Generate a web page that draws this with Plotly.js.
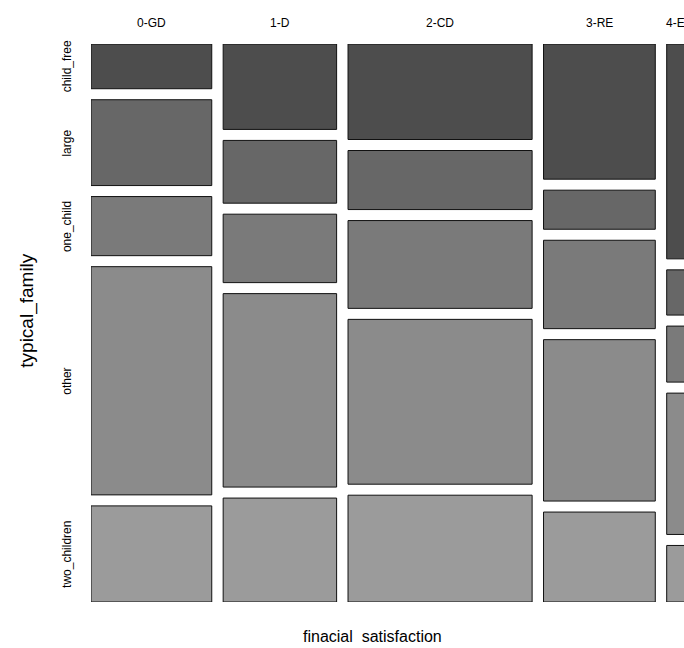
<!DOCTYPE html>
<html>
<head>
<meta charset="utf-8">
<script src="https://cdn.plot.ly/plotly-3.0.1.min.js"></script>
<style>html,body{margin:0;padding:0;background:#fff;}#chart{width:684px;height:648px;}</style>
</head>
<body>
<div id="chart"></div>
<script>
// Columns: financial satisfaction categories and their relative widths (column share)
const columns = ["0-GD", "1-D", "2-CD", "3-RE", "4-E"];
const columnShare = [120.7, 113.4, 184, 111.7, 60];

// Rows: typical_family categories (top to bottom) with within-column percentages
const rows = ["child_free", "large", "one_child", "other", "two_children"];
const child_free   = [8.7, 16.6, 18.6, 26.3, 41.8];
const large        = [16.7, 12.2, 11.5, 7.6, 8.8];
const one_child    = [11.5, 13.3, 17.1, 17.2, 10.9];
const other        = [44.4, 37.6, 32.1, 31.4, 27.5];
const two_children = [18.7, 20.2, 20.8, 17.5, 11.0];
const rowValues = [child_free, large, one_child, other, two_children];

const rowColors = ["#4d4d4d", "#676767", "#7a7a7a", "#8b8b8b", "#9b9b9b"];

// layout geometry (axis units)
const gapX = 11.4, gapY = 11;
const xMax = 592.7, yMax = 558;
const contentH = yMax - gapY * (rows.length - 1);

// column positions
const colStart = [];
let cx = 0;
columnShare.forEach((w, i) => { colStart.push(cx); cx += w + gapX; });
const colCenter = columnShare.map((w, i) => colStart[i] + w / 2);

// row heights / bases per column
const heights = rowValues.map(() => []);
const bases = rowValues.map(() => []);
columns.forEach((c, j) => {
  const tot = rowValues.reduce((s, r) => s + r[j], 0);
  let y = 0;
  rowValues.forEach((r, i) => {
    const h = r[j] / tot * contentH;
    bases[i].push(y);
    heights[i].push(h);
    y += h + gapY;
  });
});

const traces = rows.map((name, i) => ({
  type: "bar",
  name: name,
  x: colCenter,
  y: heights[i],
  base: bases[i],
  width: columnShare,
  marker: {color: rowColors[i], line: {color: "#111111", width: 1}},
  hoverinfo: "skip",
  showlegend: false
}));

const annotations = [];
const baseFont = {family: "Liberation Sans, Arial, sans-serif", size: 12, color: "#000"};
columns.forEach((c, j) => {
  const last = j === columns.length - 1;
  annotations.push({
    text: c, xref: "x", yref: "paper",
    x: last ? colStart[j] - 3 : colCenter[j],
    xanchor: last ? "left" : "center",
    y: 1.0376, yanchor: "middle", showarrow: false, font: baseFont
  });
});
rows.forEach((r, i) => {
  annotations.push({
    text: r, xref: "paper", yref: "y",
    x: -0.0405, y: bases[i][0] + heights[i][0] / 2,
    xanchor: "center", yanchor: "middle", textangle: -90,
    showarrow: false, font: baseFont
  });
});
annotations.push({
  text: "finacial\u00a0\u00a0satisfaction", xref: "paper", yref: "paper",
  x: 0.474, y: -0.0627, xanchor: "center", yanchor: "middle", showarrow: false,
  font: {family: "Liberation Sans, Arial, sans-serif", size: 16, color: "#000"}
});
annotations.push({
  text: "typical_family", xref: "paper", yref: "paper",
  x: -0.107, y: 0.523, xanchor: "center", yanchor: "middle", textangle: -90, showarrow: false,
  font: {family: "Liberation Sans, Arial, sans-serif", size: 19, color: "#000"}
});

const layout = {
  width: 684, height: 648,
  margin: {l: 91, r: 0, t: 44, b: 46, pad: 0},
  paper_bgcolor: "#fff", plot_bgcolor: "#fff",
  barmode: "overlay",
  showlegend: false,
  hovermode: false,
  xaxis: {range: [0, xMax], showgrid: false, zeroline: false, showticklabels: false, ticks: "", showline: false, fixedrange: true},
  yaxis: {range: [yMax, 0], showgrid: false, zeroline: false, showticklabels: false, ticks: "", showline: false, fixedrange: true},
  annotations: annotations
};

Plotly.newPlot("chart", traces, layout, {displayModeBar: false, staticPlot: true});
</script>
</body>
</html>
